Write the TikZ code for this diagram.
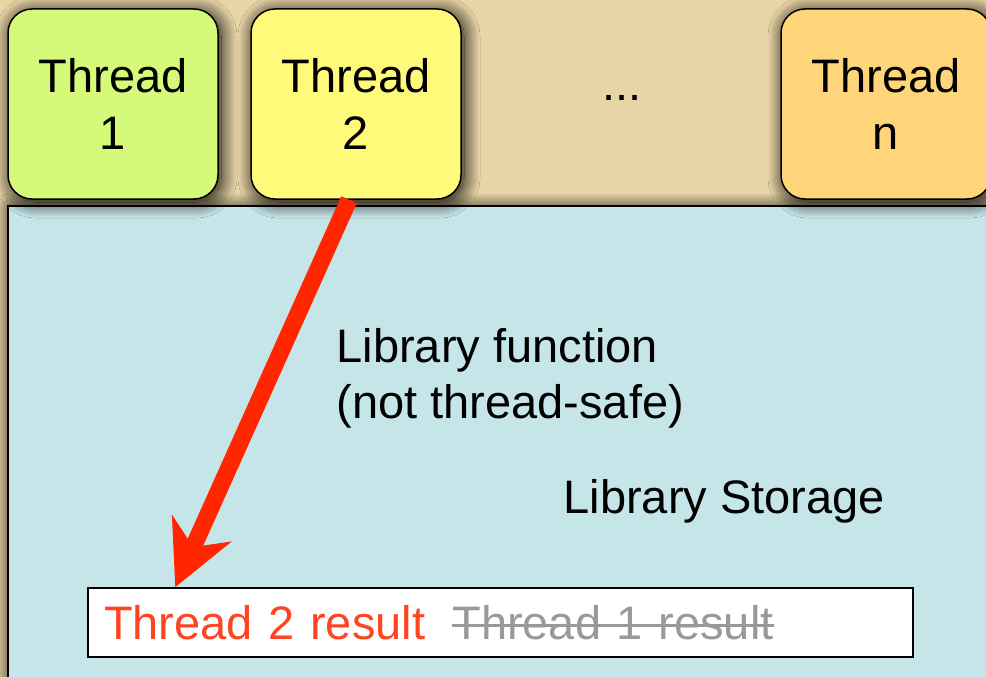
\documentclass[tikz,border=0pt]{standalone}
\usepackage{fontspec}
\setmainfont{Liberation Sans}
\usetikzlibrary{positioning}
\usetikzlibrary{arrows.meta}
\usetikzlibrary{shadows.blur}
\definecolor{papyrus}{RGB}{232,213,166}
\definecolor{storeblue}{RGB}{198,229,233}
\definecolor{threadone}{RGB}{213,250,122}
\definecolor{threadtwo}{RGB}{255,250,122}
\definecolor{threadlast}{RGB}{255,213,122}
\definecolor{arrowred}{RGB}{255,38,0}
\definecolor{newred}{RGB}{255,68,34}
\definecolor{oldgray}{RGB}{153,153,153}
\newcommand{\bigtext}{\fontsize{47}{57}\selectfont}
% crossed-out text: rule laid over the word
\newcommand{\strikeout}[1]{\setbox0\hbox{#1}\rlap{\rule[12.5pt]{\wd0}{2.5pt}}\box0}
\tikzset{halo/.style={blur shadow={shadow xshift=3pt, shadow yshift=-3pt, shadow blur radius=16pt, shadow blur steps=20, shadow opacity=100}}}
\tikzset{threadbox/.style={draw, line width=1.5pt, rounded corners=24pt, minimum width=210pt, minimum height=190pt, align=center, font=\bigtext, halo}}
\tikzset{resultbox/.style={draw, line width=1.5pt, fill=white, minimum height=69pt, text width=793pt, inner xsep=16pt, align=left, font=\bigtext}}
\tikzset{callarrow/.style={draw=arrowred, line width=17pt, -{Stealth[length=64pt, width=64pt, inset=20pt]}}}

\begin{document}
\begin{tikzpicture}[x=1pt, y=-1pt]
    \useasboundingbox (0, 0) rectangle (986, 677);
    \clip (0, 0) rectangle (986, 677);
    \fill[papyrus] (0, 0) rectangle (986, 677);

    % storage area
    \draw[line width=2pt, fill=storeblue, halo] (8, 206) rectangle (1010, 700);
    \node[font=\bigtext, anchor=base west] (storage) at (560, 513) {Library Storage};
    \node[font=\bigtext, anchor=base west] (func) at (333, 362) {Library function};
    \node[font=\bigtext, anchor=base west] (func2) at (333, 418) {(not thread-safe)};

    % threads
    \node[threadbox, fill=threadone] (t1) at (113, 104) {Thread\\1};
    \node[threadbox, fill=threadtwo] (t2) at (356, 104) {Thread\\2};
    \node[threadbox, fill=threadlast] (tn) at (886, 104) {Thread\\n};
    \node[font=\bigtext, anchor=base] (dots) at (622, 100) {...};

    % result slot
    \node[resultbox] (res) at (500.5, 622.5)
        {\textcolor{newred}{Thread 2 result}\hspace{27pt}\textcolor{oldgray}{\strikeout{Thread 1 result}}};

    \draw[callarrow] ([xshift=-7pt]t2.south) -- ([xshift=88pt]res.north west);
\end{tikzpicture}
\end{document}
